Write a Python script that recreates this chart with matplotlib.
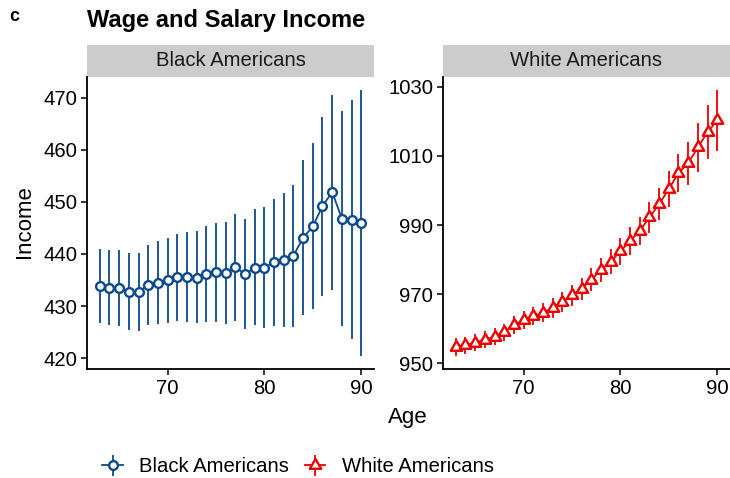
import matplotlib
matplotlib.use("Agg")
import matplotlib.pyplot as plt
from matplotlib.patches import Rectangle
import numpy as np

plt.rcParams['font.family'] = ['Liberation Sans', 'DejaVu Sans']

# ---------------- data ----------------
ages = list(range(63, 91))

black_income = [433.9, 433.5, 433.5, 432.75, 432.75, 434.0, 434.5, 435.0, 435.6, 435.6,
                435.4, 436.1, 436.5, 436.3, 437.5, 436.1, 437.4, 437.4, 438.4, 438.9,
                439.7, 443.1, 445.3, 449.2, 451.9, 446.8, 446.6, 446.0]
black_upper = [441.0, 440.7, 440.7, 440.1, 440.2, 441.8, 442.4, 443.0, 443.9, 444.3,
               444.4, 445.3, 446.0, 446.2, 447.7, 446.7, 448.6, 449.1, 450.6, 451.8,
               453.3, 458.0, 461.3, 466.3, 470.6, 467.4, 469.6, 471.5]
black_lower = [426.7, 426.3, 426.2, 425.4, 425.2, 426.3, 426.5, 426.7, 427.1, 427.0,
               426.7, 426.9, 426.9, 426.5, 427.2, 425.6, 426.3, 425.7, 426.1, 426.0,
               425.9, 428.3, 429.4, 432.0, 433.1, 426.1, 423.7, 420.4]

white_income = [954.7, 955.2, 956.0, 956.8, 957.7, 959.0, 961.1, 962.5, 963.6, 964.6,
                966.0, 967.7, 969.7, 971.6, 974.2, 977.0, 979.4, 982.4, 985.4, 988.3,
                992.2, 996.1, 1000.4, 1005.1, 1007.9, 1012.5, 1016.9, 1020.3]
white_err = [2.6, 2.5, 2.5, 2.5, 2.5, 2.5, 2.5, 2.6, 2.6, 2.7,
             2.8, 2.9, 3.0, 3.2, 3.4, 3.5, 3.7, 3.9, 4.0, 4.1,
             4.4, 4.7, 5.2, 5.6, 6.2, 7.0, 7.8, 8.8]

panels = ["Black Americans", "White Americans"]
left_yticks = [420, 430, 440, 450, 460, 470]
right_yticks = [950, 970, 990, 1010, 1030]
xticks = [70, 80, 90]

BLUE = "#0B4A8C"
RED = "#EE0000"

W, H = 730, 478
fig = plt.figure(figsize=(W / 100, H / 100), dpi=100)

def frac_axes(x0, x1, ytop, ybot):
    return fig.add_axes([x0 / W, 1 - ybot / H, (x1 - x0) / W, (ybot - ytop) / H])

axL = frac_axes(86.7, 374.3, 76.7, 369.3)
axR = frac_axes(442.7, 730.3, 76.7, 369.3)

tri = [(0, 1), (-0.8660254, -0.5), (0.8660254, -0.5), (0, 1)]

b = np.array(black_income)
bl = b - np.array(black_lower)
bu = np.array(black_upper) - b
hB = axL.errorbar(ages, b, yerr=[bl, bu], color=BLUE, lw=1.3, elinewidth=1.3,
                  marker='o', ms=6.3, mfc='white', mec=BLUE, mew=1.7, capsize=0,
                  label=panels[0], zorder=3)

w = np.array(white_income)
we = np.array(white_err)
hW = axR.errorbar(ages, w, yerr=we, color=RED, lw=1.3, elinewidth=1.3,
                  marker=tri, ms=9.5, mfc='white', mec=RED, mew=1.7, capsize=0,
                  label=panels[1], zorder=3)

def expand(lo, hi, f=0.05):
    r = hi - lo
    return lo - f * r, hi + f * r

axL.set_xlim(*expand(min(ages), max(ages)))
axR.set_xlim(*expand(min(ages), max(ages)))
axL.set_ylim(*expand(min(black_lower), max(black_upper)))
axR.set_ylim(*expand(min(w - we), max(w + we)))

axL.set_yticks(left_yticks)
axR.set_yticks(right_yticks)
for ax, title in zip([axL, axR], panels):
    ax.set_xticks(xticks)
    for s in ['top', 'right']:
        ax.spines[s].set_visible(False)
    for s in ['left', 'bottom']:
        ax.spines[s].set_linewidth(1.3)
        ax.spines[s].set_color('black')
    ax.tick_params(axis='both', direction='out', length=4.3, width=1.1,
                   labelsize=14.6, colors='black', pad=2.5)
    ax.set_facecolor('white')
    # facet strip
    strip_h = (76.7 - 45.0) / (369.3 - 76.7)
    ax.add_patch(Rectangle((0, 1.0), 1, strip_h, transform=ax.transAxes,
                           facecolor='#CCCCCC', edgecolor='none', clip_on=False))
    ax.text(0.5, 1.0 + strip_h / 2, title, transform=ax.transAxes, ha='center',
            va='center', fontsize=14.6, color='#1A1A1A')

fig.text(25 / W, 1 - 222 / H, "Income", rotation=90, ha='center', va='center',
         fontsize=16)
fig.text(408 / W, 1 - 423.5 / H, "Age", ha='center', va='baseline', fontsize=16)
fig.text(87 / W, 1 - 26.5 / H, "Wage and Salary Income", ha='left', va='baseline',
         fontsize=17, fontweight='bold')
fig.text(9.5 / W, 1 - 21 / H, "c", ha='left', va='baseline', fontsize=13,
         fontweight='bold')

fig.legend(handles=[hB, hW], labels=panels, loc='center', ncol=2,
           bbox_to_anchor=(298 / W, 1 - 467 / H), frameon=False, fontsize=14.6,
           handlelength=1.0, handletextpad=0.8, columnspacing=0.8)

fig.savefig("out.png", dpi=100, facecolor='white')
